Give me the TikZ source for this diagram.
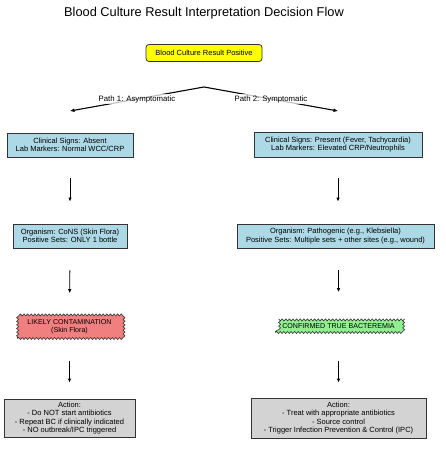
\documentclass[tikz,border=0pt]{standalone}
\usepackage{fontspec}
\setmainfont{Liberation Sans}
\usepackage{tikz}
\usetikzlibrary{arrows.meta,positioning,decorations.pathmorphing}
\definecolor{boxyellow}{HTML}{FFFF00}
\definecolor{boxblue}{HTML}{ADD8E6}
\definecolor{boxred}{HTML}{F08080}
\definecolor{boxgreen}{HTML}{90EE90}
\definecolor{boxgray}{HTML}{D3D3D3}
\definecolor{edgegray}{HTML}{333333}
\tikzset{
  flowbox/.style={draw=edgegray,line width=0.8pt,align=center,inner sep=1pt,font=\fontsize{7.5}{8.2}\selectfont},
  startbox/.style={flowbox,fill=boxyellow,rounded corners=3pt},
  infobox/.style={flowbox,fill=boxblue},
  wavybox/.style={flowbox,line width=0.6pt,font=\fontsize{7.1}{7.8}\selectfont,decorate,decoration={snake,segment length=3.6pt,amplitude=1pt}},
  actionbox/.style={flowbox,fill=boxgray},
  flowarrow/.style={-{Latex[length=4pt,width=3.5pt]},line width=0.9pt},
  patharrow/.style={-{Latex[length=4.5pt,width=4pt]},line width=1.1pt},
  pathlabel/.style={fill=white,fill opacity=0.75,text opacity=1,inner sep=1pt,font=\fontsize{7.8}{9}\selectfont}
}
\begin{document}
\begin{tikzpicture}[x=1pt,y=-1pt]
\useasboundingbox (0,0) rectangle (445,449);
\node (title) at (204,13) {\fontsize{12.8}{14}\selectfont Blood Culture Result Interpretation Decision Flow};
\node[startbox,minimum width=116pt,minimum height=17pt] (start) at (204,53) {Blood Culture Result Positive};
% two paths
\node[infobox,minimum width=126pt,minimum height=24pt] (clinL) at (70,145) {Clinical Signs: Absent\\Lab Markers: Normal WCC/CRP};
\node[infobox,minimum width=168pt,minimum height=25pt] (clinR) at (338,144.5) {Clinical Signs: Present (Fever, Tachycardia)\\Lab Markers: Elevated CRP/Neutrophils};
\coordinate (split) at (204,87);
\coordinate (endL) at (70,111);
\coordinate (endR) at (338,111);
\draw[patharrow] (split) -- (endL) node[pathlabel,pos=0.5] {Path 1: Asymptomatic};
\draw[patharrow] (split) -- (endR) node[pathlabel,pos=0.5] {Path 2: Symptomatic};
\node[infobox,minimum width=114pt,minimum height=24pt] (orgL) at (70,236) {Organism: CoNS (Skin Flora)\\Positive Sets: ONLY 1 bottle};
\node[infobox,minimum width=197pt,minimum height=24pt] (orgR) at (335.5,236) {Organism: Pathogenic (e.g., Klebsiella)\\Positive Sets: Multiple sets + other sites (e.g., wound)};
\node[wavybox,fill=boxred,minimum width=104pt,minimum height=23pt] (contam) at (69.5,327) {LIKELY CONTAMINATION\\(Skin Flora)};
\node[wavybox,fill=boxgreen,minimum width=126pt,minimum height=13pt] (bact) at (338.5,326) {CONFIRMED TRUE BACTEREMIA};
\node[actionbox,minimum width=131pt,minimum height=38pt] (actL) at (69.5,418) {Action:\\- Do NOT start antibiotics\\- Repeat BC if clinically indicated\\- NO outbreak/IPC triggered};
\node[actionbox,minimum width=175pt,minimum height=40pt] (actR) at (338.5,418) {Action:\\- Treat with appropriate antibiotics\\- Source control\\- Trigger Infection Prevention \& Control (IPC)};
% short arrows
\draw[flowarrow,shorten <=21pt,shorten >=22pt] (clinL) -- (orgL);
\draw[flowarrow,shorten <=21pt,shorten >=22pt] (clinR) -- (orgR.north -| clinR);
\draw[flowarrow,shorten <=22pt,shorten >=22pt] (orgL) -- (contam);
\draw[flowarrow,shorten <=22pt,shorten >=27pt] (orgR.south -| bact) -- (bact);
\draw[flowarrow,shorten <=22pt,shorten >=16pt] (contam) -- (actL);
\draw[flowarrow,shorten <=28pt,shorten >=15pt] (bact) -- (actR);
\end{tikzpicture}
\end{document}
